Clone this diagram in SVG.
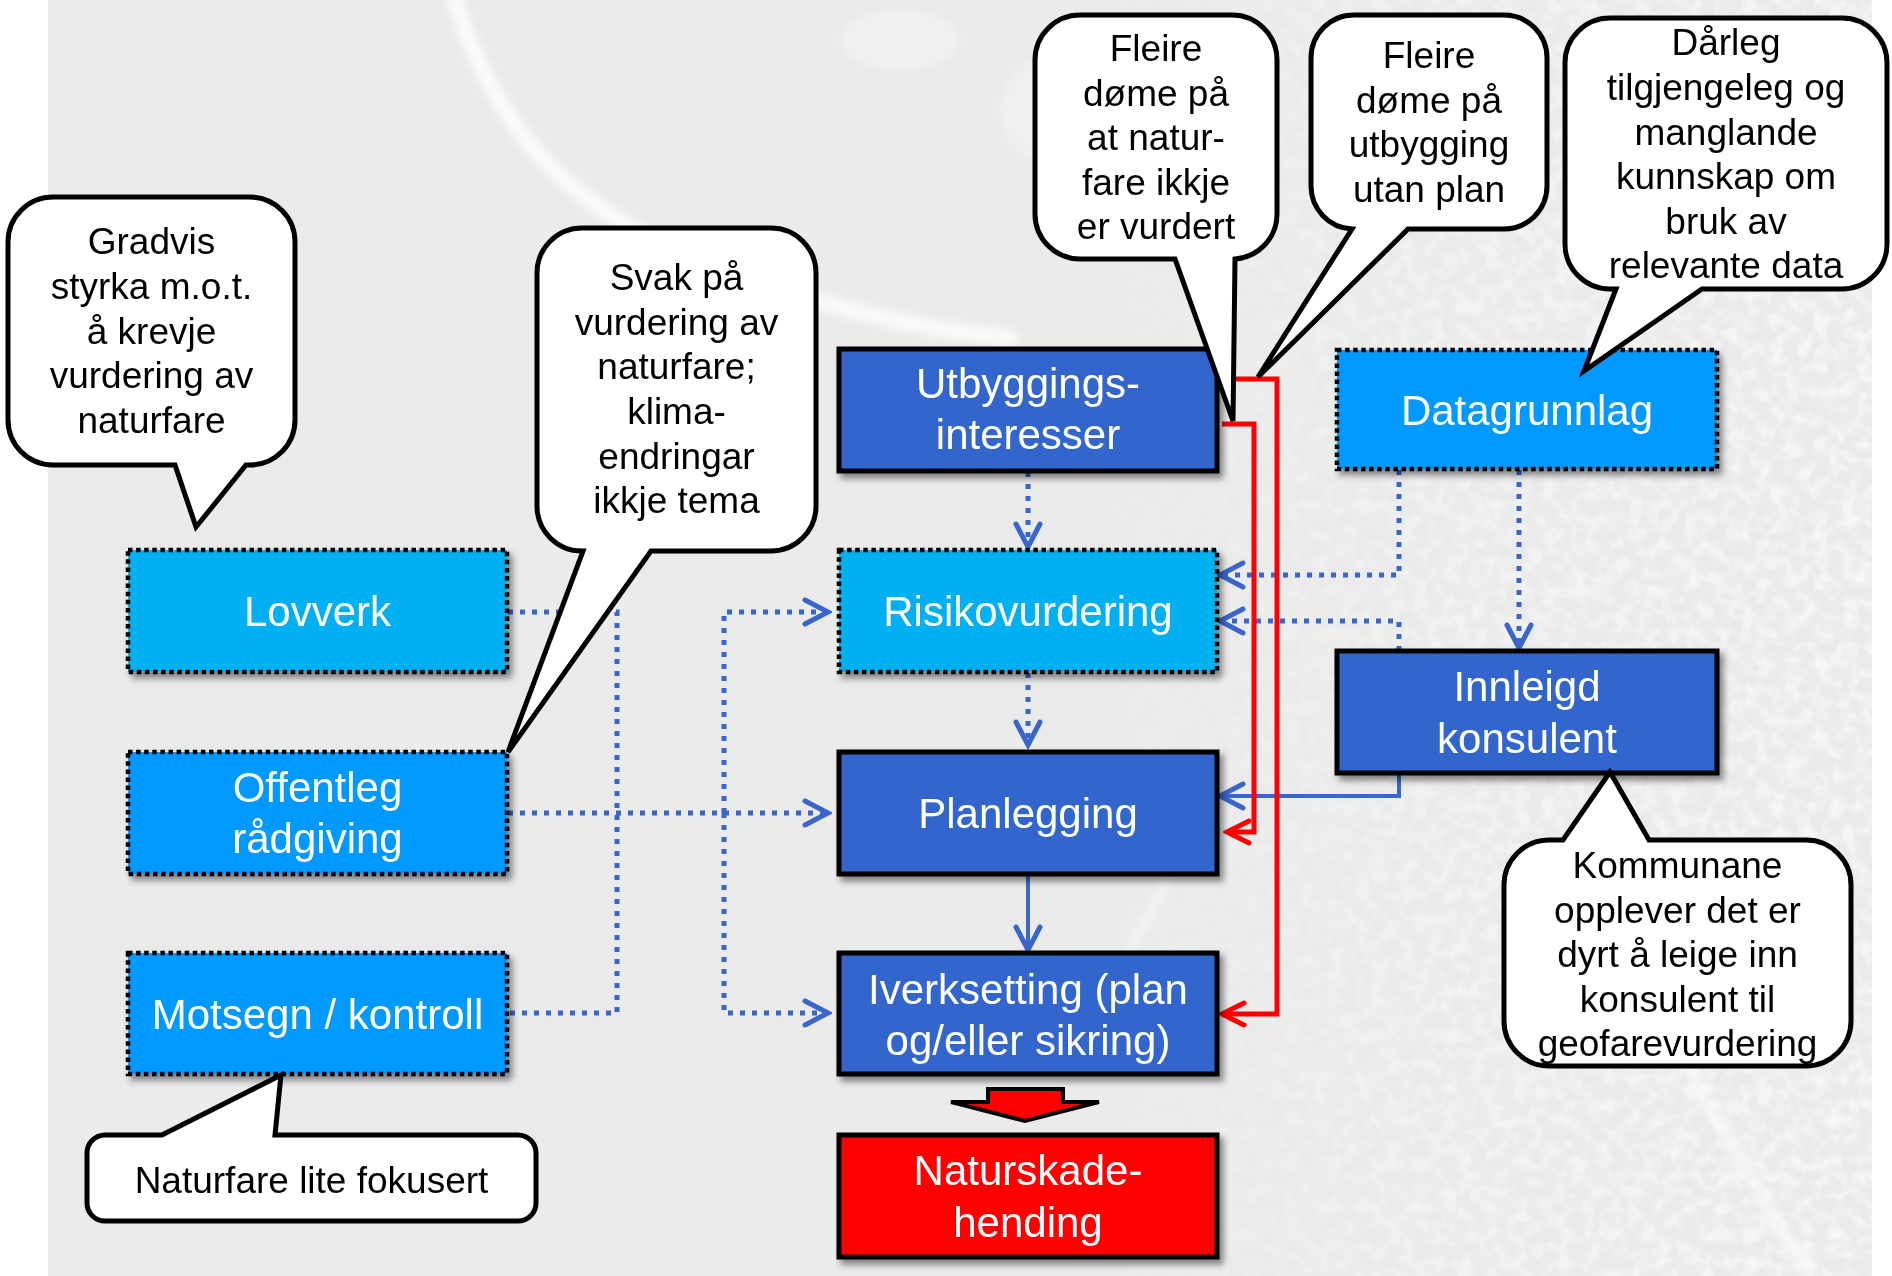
<svg xmlns="http://www.w3.org/2000/svg" width="1892" height="1276" viewBox="0 0 1892 1276">
  <defs>
    <style>
      .node-text { font-family: "Liberation Sans", Arial, sans-serif; font-size: 42px; fill: #FFFFFF; text-anchor: middle; }
      .note-text { font-family: "Liberation Sans", Arial, sans-serif; font-size: 37px; fill: #000000; text-anchor: middle; }
      .solidbox { stroke: #000000; stroke-width: 5; }
      .dotbox { stroke: #000000; stroke-width: 4.5; stroke-dasharray: 4.5 3.6; }
      .note { fill: #FFFFFF; stroke: #000000; stroke-width: 5; stroke-linejoin: miter; }
      .dotted { fill: none; stroke: #3A66CC; stroke-width: 5; stroke-dasharray: 5 7; }
      .solid-blue { fill: none; stroke: #3A66CC; stroke-width: 4; }
      .red { fill: none; stroke: #FF0000; stroke-width: 5; }
      .streak { fill: none; stroke: #FFFFFF; stroke-linecap: round; }
    </style>
    <filter id="shadow" x="-5%" y="-10%" width="115%" height="130%">
      <feDropShadow dx="4" dy="5" stdDeviation="3" flood-color="#000000" flood-opacity="0.45"/>
    </filter>
    <filter id="soft" x="-20%" y="-20%" width="140%" height="140%">
      <feGaussianBlur stdDeviation="4"/>
    </filter>
    <filter id="speckle" x="0" y="0" width="100%" height="100%">
      <feTurbulence type="fractalNoise" baseFrequency="0.07" numOctaves="2" seed="7" result="n"/>
      <feColorMatrix in="n" type="matrix" values="0 0 0 0 1  0 0 0 0 1  0 0 0 0 1  3.2 0 0 0 -1.3"/>
    </filter>
    <linearGradient id="fadeRight" x1="0" y1="0" x2="1" y2="0">
      <stop offset="0" stop-color="#FFFFFF" stop-opacity="0"/>
      <stop offset="0.45" stop-color="#FFFFFF" stop-opacity="0.7"/>
      <stop offset="1" stop-color="#FFFFFF" stop-opacity="1"/>
    </linearGradient>
    <mask id="rightMask">
      <rect x="1100" y="0" width="792" height="1276" fill="url(#fadeRight)"/>
    </mask>
    <marker id="arrowBlue" viewBox="-28 -16 32 32" markerWidth="32" markerHeight="32" refX="0" refY="0" orient="auto" markerUnits="userSpaceOnUse">
      <path d="M-23,-12 L0,0 L-23,12" fill="none" stroke="#3A66CC" stroke-width="5" stroke-linecap="round" stroke-linejoin="miter"/>
    </marker>
    <marker id="arrowRed" viewBox="-28 -16 32 32" markerWidth="32" markerHeight="32" refX="0" refY="0" orient="auto" markerUnits="userSpaceOnUse">
      <path d="M-22,-11 L0,0 L-22,11" fill="none" stroke="#FF0000" stroke-width="5" stroke-linecap="round" stroke-linejoin="miter"/>
    </marker>
  </defs>

  <!-- backdrop: pale grey panel with faint light streaks -->
  <rect x="0" y="0" width="1892" height="1276" fill="#FFFFFF"/>
  <rect x="48" y="0" width="1824" height="1276" fill="#EBEBEB"/>
  <g mask="url(#rightMask)" opacity="0.55">
    <rect x="1100" y="0" width="772" height="1276" filter="url(#speckle)"/>
  </g>
  <g filter="url(#soft)" opacity="0.8">
    <path class="streak" stroke-width="16" d="M452,-10 C490,120 560,200 680,252 C780,294 880,325 1010,338"/>
    <path class="streak" stroke-width="14" opacity="0.6" d="M1590,850 C1650,1000 1730,1150 1810,1276"/>
    <path class="streak" stroke-width="10" opacity="0.5" d="M1170,870 C1150,920 1120,960 1105,1000"/>
    <ellipse cx="900" cy="40" rx="60" ry="30" fill="#FFFFFF" opacity="0.35"/>
    <ellipse cx="1040" cy="110" rx="40" ry="50" fill="#FFFFFF" opacity="0.3"/>
  </g>

  <!-- connectors -->
  <g id="connectors">
    <!-- dotted feeds from the left column -->
    <path class="dotted" d="M508,612 H617 V1013 H508"/>
    <path class="dotted" d="M508,813 H828" marker-end="url(#arrowBlue)"/>
    <path class="dotted" d="M724,813 V612 H828" marker-end="url(#arrowBlue)"/>
    <path class="dotted" d="M724,813 V1013 H828" marker-end="url(#arrowBlue)"/>
    <!-- central chain -->
    <path class="dotted" d="M1028,472 V547" marker-end="url(#arrowBlue)"/>
    <path class="dotted" d="M1028,673 V745" marker-end="url(#arrowBlue)"/>
    <path class="solid-blue" d="M1028,875 V950" marker-end="url(#arrowBlue)"/>
    <!-- right column -->
    <path class="dotted" d="M1399,470 V575 H1220" marker-end="url(#arrowBlue)"/>
    <path class="dotted" d="M1519,470 V648" marker-end="url(#arrowBlue)"/>
    <path class="dotted" d="M1399,651 V621 H1220" marker-end="url(#arrowBlue)"/>
    <path class="solid-blue" d="M1399,774 V796 H1220" marker-end="url(#arrowBlue)"/>
    <!-- red feedback lines -->
    <path class="red" d="M1236,379 H1277 V1014 H1222" marker-end="url(#arrowRed)"/>
    <path class="red" d="M1222,424 H1254 V832 H1227" marker-end="url(#arrowRed)"/>
    <!-- block arrow towards the event -->
    <polygon points="988,1089 1063,1089 1063,1102 1099,1102 1025,1121 951,1102 988,1102" fill="#FF0000" stroke="#000000" stroke-width="4" stroke-linejoin="miter"/>
  </g>

  <!-- left column -->
  <g id="lovverk" filter="url(#shadow)">
    <rect class="dotbox" x="128" y="550" width="379" height="122" fill="#00B0F0"/>
    <text class="node-text" x="317.5" y="626">Lovverk</text>
  </g>
  <g id="offentleg-radgiving" filter="url(#shadow)">
    <rect class="dotbox" x="128" y="752" width="379" height="122" fill="#0099FF"/>
    <text class="node-text" x="317.5" y="802">Offentleg</text>
    <text class="node-text" x="317.5" y="853">rådgiving</text>
  </g>
  <g id="motsegn-kontroll" filter="url(#shadow)">
    <rect class="dotbox" x="128" y="953" width="379" height="121" fill="#0099FF"/>
    <text class="node-text" x="317.5" y="1029">Motsegn / kontroll</text>
  </g>

  <!-- centre column -->
  <g id="utbyggingsinteresser" filter="url(#shadow)">
    <rect class="solidbox" x="839" y="349" width="378" height="122" fill="#3366CC"/>
    <text class="node-text" x="1028" y="398">Utbyggings-</text>
    <text class="node-text" x="1028" y="449">interesser</text>
  </g>
  <g id="risikovurdering" filter="url(#shadow)">
    <rect class="dotbox" x="839" y="550" width="378" height="122" fill="#00B0F0"/>
    <text class="node-text" x="1028" y="626">Risikovurdering</text>
  </g>
  <g id="planlegging" filter="url(#shadow)">
    <rect class="solidbox" x="839" y="752" width="378" height="122" fill="#3366CC"/>
    <text class="node-text" x="1028" y="828">Planlegging</text>
  </g>
  <g id="iverksetting" filter="url(#shadow)">
    <rect class="solidbox" x="839" y="953" width="378" height="121" fill="#3366CC"/>
    <text class="node-text" x="1028" y="1004">Iverksetting (plan</text>
    <text class="node-text" x="1028" y="1055">og/eller sikring)</text>
  </g>
  <g id="naturskadehending" filter="url(#shadow)">
    <rect class="solidbox" x="839" y="1135" width="378" height="122" fill="#FF0000"/>
    <text class="node-text" x="1028" y="1185">Naturskade-</text>
    <text class="node-text" x="1028" y="1237">hending</text>
  </g>

  <!-- right column -->
  <g id="datagrunnlag" filter="url(#shadow)">
    <rect class="dotbox" x="1337" y="350" width="380" height="119" fill="#0099FF"/>
    <text class="node-text" x="1527" y="425">Datagrunnlag</text>
  </g>
  <g id="innleigd-konsulent" filter="url(#shadow)">
    <rect class="solidbox" x="1337" y="651" width="380" height="122" fill="#3366CC"/>
    <text class="node-text" x="1527" y="701">Innleigd</text>
    <text class="node-text" x="1527" y="753">konsulent</text>
  </g>

  <!-- speech-bubble notes -->
  <g id="note-gradvis">
    <path class="note" d="M53,197 H250 A45,45 0 0 1 295,242 V420 A45,45 0 0 1 250,465 H246 L196,527 L175,465 H53 A45,45 0 0 1 8,420 V242 A45,45 0 0 1 53,197 Z"/>
    <text class="note-text" x="151.5" y="254">Gradvis</text>
    <text class="note-text" x="151.5" y="299">styrka m.o.t.</text>
    <text class="note-text" x="151.5" y="344">å krevje</text>
    <text class="note-text" x="151.5" y="388">vurdering av</text>
    <text class="note-text" x="151.5" y="433">naturfare</text>
  </g>
  <g id="note-svak">
    <path class="note" d="M582,228 H771 A45,45 0 0 1 816,273 V506 A45,45 0 0 1 771,551 H651 L508,752 L583,551 A45,45 0 0 1 537,506 V273 A45,45 0 0 1 582,228 Z"/>
    <text class="note-text" x="676.5" y="290">Svak på</text>
    <text class="note-text" x="676.5" y="335">vurdering av</text>
    <text class="note-text" x="676.5" y="379">naturfare;</text>
    <text class="note-text" x="676.5" y="424">klima-</text>
    <text class="note-text" x="676.5" y="469">endringar</text>
    <text class="note-text" x="676.5" y="513">ikkje tema</text>
  </g>
  <g id="note-fleire-vurdert">
    <path class="note" d="M1080,15 H1232 A45,45 0 0 1 1277,60 V214 A45,45 0 0 1 1235,259 L1233,421 L1175,259 H1080 A45,45 0 0 1 1035,214 V60 A45,45 0 0 1 1080,15 Z"/>
    <text class="note-text" x="1156" y="61">Fleire</text>
    <text class="note-text" x="1156" y="106">døme på</text>
    <text class="note-text" x="1156" y="150">at natur-</text>
    <text class="note-text" x="1156" y="195">fare ikkje</text>
    <text class="note-text" x="1156" y="239">er vurdert</text>
  </g>
  <g id="note-fleire-utbygging">
    <path class="note" d="M1354,15 H1504 A43,43 0 0 1 1547,58 V186 A43,43 0 0 1 1504,229 H1408 L1258,377 L1352,229 A43,43 0 0 1 1311,186 V58 A43,43 0 0 1 1354,15 Z"/>
    <text class="note-text" x="1429" y="68">Fleire</text>
    <text class="note-text" x="1429" y="113">døme på</text>
    <text class="note-text" x="1429" y="157">utbygging</text>
    <text class="note-text" x="1429" y="202">utan plan</text>
  </g>
  <g id="note-darleg">
    <path class="note" d="M1610,18 H1842 A45,45 0 0 1 1887,63 V244 A45,45 0 0 1 1842,289 H1702 L1584,371 L1616,289 H1610 A45,45 0 0 1 1565,244 V63 A45,45 0 0 1 1610,18 Z"/>
    <text class="note-text" x="1726" y="55">Dårleg</text>
    <text class="note-text" x="1726" y="100">tilgjengeleg og</text>
    <text class="note-text" x="1726" y="145">manglande</text>
    <text class="note-text" x="1726" y="189">kunnskap om</text>
    <text class="note-text" x="1726" y="234">bruk av</text>
    <text class="note-text" x="1726" y="278">relevante data</text>
  </g>
  <g id="note-kommunane">
    <path class="note" d="M1549,840 H1563 L1610,772 L1649,840 H1806 A45,45 0 0 1 1851,885 V1021 A45,45 0 0 1 1806,1066 H1549 A45,45 0 0 1 1504,1021 V885 A45,45 0 0 1 1549,840 Z"/>
    <text class="note-text" x="1677.5" y="878">Kommunane</text>
    <text class="note-text" x="1677.5" y="923">opplever det er</text>
    <text class="note-text" x="1677.5" y="967">dyrt å leige inn</text>
    <text class="note-text" x="1677.5" y="1012">konsulent til</text>
    <text class="note-text" x="1677.5" y="1056">geofarevurdering</text>
  </g>
  <g id="note-naturfare">
    <path class="note" d="M105,1135 H162 L281,1075 L275,1135 H518 A18,18 0 0 1 536,1153 V1203 A18,18 0 0 1 518,1221 H105 A18,18 0 0 1 87,1203 V1153 A18,18 0 0 1 105,1135 Z"/>
    <text class="note-text" x="311.5" y="1193">Naturfare lite fokusert</text>
  </g>
</svg>
